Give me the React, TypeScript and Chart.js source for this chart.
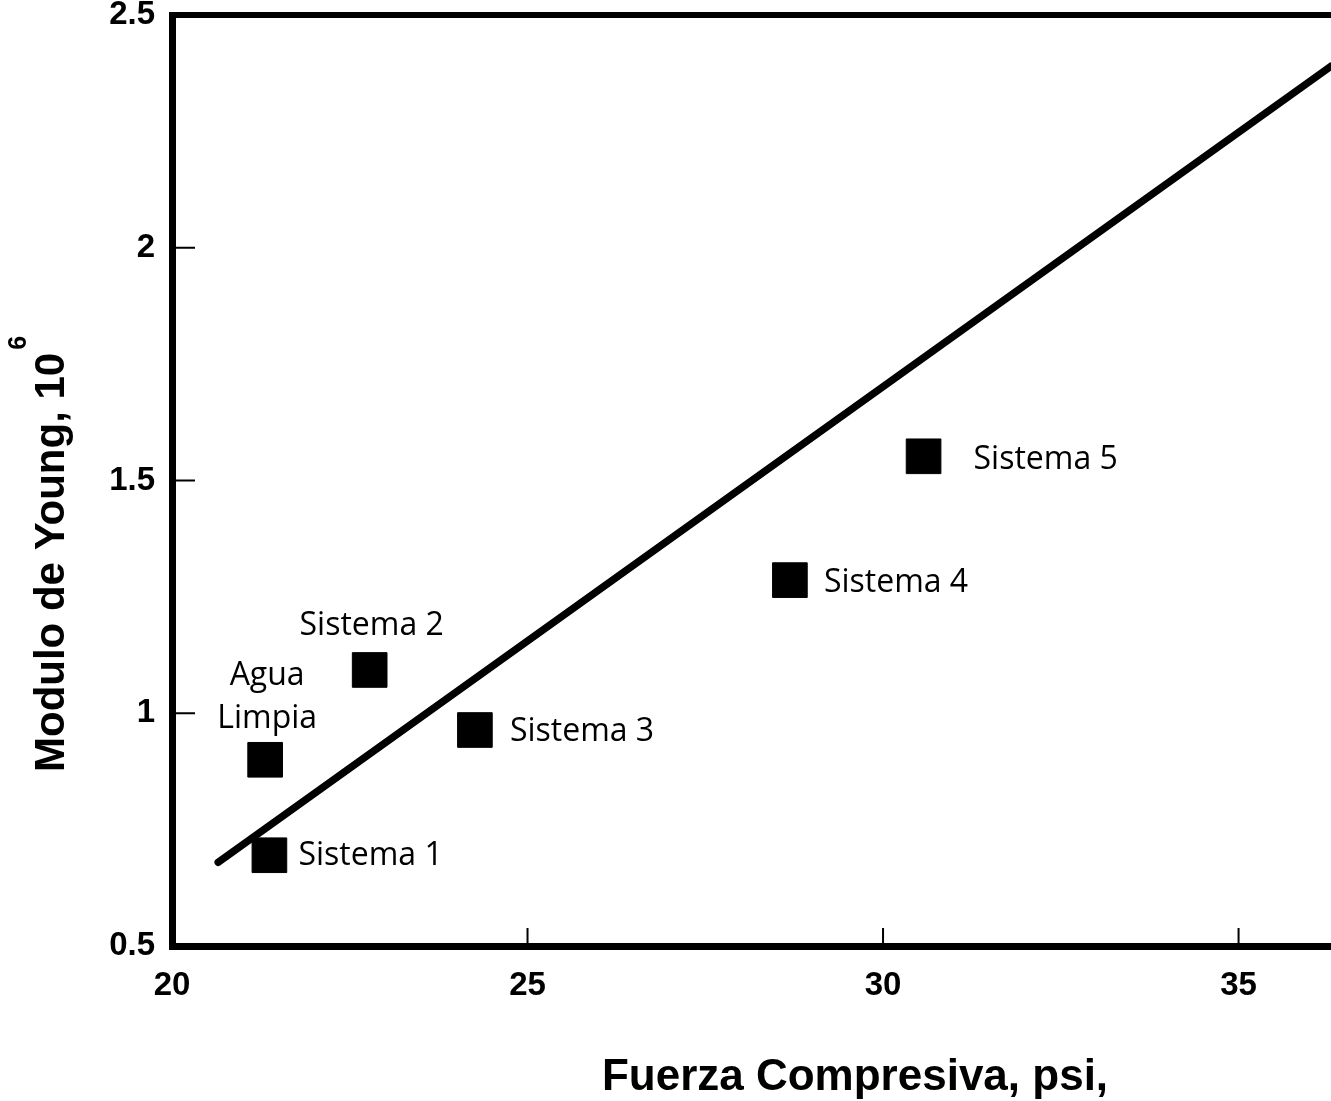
import React, { useEffect, useRef } from "react";
import { Chart, registerables } from "chart.js";

Chart.register(...registerables);

// ---- data ----
const X_TICKS = [20, 25, 30, 35];
const Y_TICKS = [0.5, 1, 1.5, 2, 2.5];
const X_MIN = 20;
const X_MAX = 36.3;
const Y_MIN = 0.5;
const Y_MAX = 2.5;

const POINT_NAMES = ["Agua Limpia", "Sistema 1", "Sistema 2", "Sistema 3", "Sistema 4", "Sistema 5"];
const POINT_X = [21.31, 21.37, 22.78, 24.26, 28.69, 30.57];
const POINT_Y = [0.9, 0.695, 1.093, 0.964, 1.286, 1.552];

const FIT_X = [20.65, 36.3];
const FIT_Y = [0.68, 2.39];

const X_TITLE = "Fuerza Compresiva, psi,";
const Y_TITLE = "Modulo de Young, 10";
const Y_TITLE_SUP = "6";

// label text lines for each point
const LABEL_LINES = [["Agua", "Limpia"], ["Sistema 1"], ["Sistema 2"], ["Sistema 3"], ["Sistema 4"], ["Sistema 5"]];

// ---- styling / placement (pixels, not data) ----
const LABEL_PLACE = [
  { dx: 2, dy: -75, align: "center", base: "alphabetic", lineGap: 43 },
  { dx: 29, dy: 1, align: "left", base: "middle", lineGap: 0 },
  { dx: 2, dy: -35, align: "center", base: "alphabetic", lineGap: 0 },
  { dx: 35, dy: 2, align: "left", base: "middle", lineGap: 0 },
  { dx: 34, dy: 3, align: "left", base: "middle", lineGap: 0 },
  { dx: 50, dy: 4, align: "left", base: "middle", lineGap: 0 },
];

const AXIS_FONT = '"Liberation Sans", Arial, Helvetica, sans-serif';
const LABEL_FONT = '"Open Sans", "Noto Sans", sans-serif';

const decorPlugin = {
  id: "decor",
  afterDatasetsDraw(chart: any) {
    const { ctx, scales } = chart;
    const xs = scales.x;
    const ys = scales.y;
    ctx.save();
    ctx.fillStyle = "#000";
    ctx.font = `32px ${LABEL_FONT}`;
    POINT_X.forEach((xv, i) => {
      const px = xs.getPixelForValue(xv);
      const py = ys.getPixelForValue(POINT_Y[i]);
      const p = LABEL_PLACE[i];
      ctx.textAlign = p.align;
      ctx.textBaseline = p.base;
      LABEL_LINES[i].forEach((t, j) => {
        ctx.fillText(t, px + p.dx, py + p.dy + j * p.lineGap);
      });
    });
    ctx.restore();
  },
  afterDraw(chart: any) {
    const { ctx, chartArea: a, scales } = chart;
    const xs = scales.x;
    const ys = scales.y;
    ctx.save();
    ctx.strokeStyle = "#000";
    // top border
    ctx.lineWidth = 6;
    ctx.beginPath();
    ctx.moveTo(a.left - 3, a.top);
    ctx.lineTo(a.right + 5, a.top);
    ctx.stroke();
    // inner ticks
    ctx.lineWidth = 2;
    ctx.beginPath();
    X_TICKS.forEach((v) => {
      const px = xs.getPixelForValue(v);
      if (px > a.left + 6) {
        ctx.moveTo(px, a.bottom);
        ctx.lineTo(px, a.bottom - 18);
      }
    });
    Y_TICKS.forEach((v) => {
      const py = ys.getPixelForValue(v);
      if (py > a.top + 6 && py < a.bottom - 6) {
        ctx.moveTo(a.left, py);
        ctx.lineTo(a.left + 23, py);
      }
    });
    ctx.stroke();

    // axis titles
    ctx.fillStyle = "#000";
    ctx.font = `bold 44px ${AXIS_FONT}`;
    ctx.textAlign = "center";
    ctx.textBaseline = "alphabetic";
    ctx.fillText(X_TITLE, 855, 1090);

    ctx.font = `bold 42px ${AXIS_FONT}`;
    ctx.translate(64, 772);
    ctx.rotate(-Math.PI / 2);
    ctx.textAlign = "left";
    ctx.fillText(Y_TITLE, 0, 0);
    const w = ctx.measureText(Y_TITLE).width;
    ctx.font = `bold 25px ${AXIS_FONT}`;
    ctx.fillText(Y_TITLE_SUP, w + 3, -38);
    ctx.restore();
  },
};

export default function App() {
  const ref = useRef<HTMLCanvasElement | null>(null);

  useEffect(() => {
    if (!ref.current) return;
    const tickFont = { family: AXIS_FONT, size: 33, weight: "bold" as const };
    const chart = new Chart(ref.current, {
      type: "scatter",
      data: {
        datasets: [
          {
            type: "line",
            label: "Ajuste",
            data: FIT_X.map((x, i) => ({ x, y: FIT_Y[i] })),
            borderColor: "#000",
            borderWidth: 7.5,
            borderCapStyle: "round",
            pointRadius: 0,
            fill: false,
            tension: 0,
            order: 2,
          },
          {
            type: "scatter",
            label: "Sistemas",
            data: POINT_X.map((x, i) => ({ x, y: POINT_Y[i], name: POINT_NAMES[i] })),
            pointStyle: "rect",
            pointRadius: 24.5,
            pointBackgroundColor: "#000",
            pointBorderColor: "#000",
            pointBorderWidth: 1,
            order: 1,
          },
        ] as any,
      },
      options: {
        animation: false,
        responsive: true,
        maintainAspectRatio: false,
        devicePixelRatio: 1,
        layout: { autoPadding: false, padding: { top: 15, right: 0, left: 0, bottom: 0 } },
        plugins: {
          legend: { display: false },
          tooltip: { enabled: false },
          title: { display: false },
        },
        scales: {
          x: {
            type: "linear",
            min: X_MIN,
            max: X_MAX,
            afterBuildTicks: (s: any) => {
              s.ticks = X_TICKS.map((v) => ({ value: v }));
            },
            afterFit: (s: any) => {
              s.height = 155;
              s.paddingLeft = 0;
              s.paddingRight = 0;
            },
            grid: { display: false, drawTicks: false },
            border: { display: true, color: "#000", width: 7 },
            ticks: {
              font: tickFont,
              color: "#000",
              padding: 20,
              autoSkip: false,
              maxRotation: 0,
              callback: (v: any) => String(v),
            },
          },
          y: {
            type: "linear",
            min: Y_MIN,
            max: Y_MAX,
            afterBuildTicks: (s: any) => {
              s.ticks = Y_TICKS.map((v) => ({ value: v }));
            },
            afterFit: (s: any) => {
              s.width = 172;
              s.paddingTop = 0;
              s.paddingBottom = 0;
            },
            grid: { display: false, drawTicks: false },
            border: { display: true, color: "#000", width: 7 },
            ticks: {
              font: tickFont,
              color: "#000",
              padding: 17,
              autoSkip: false,
              callback: (v: any) => String(v),
            },
          },
        },
      } as any,
      plugins: [decorPlugin],
    });
    return () => chart.destroy();
  }, []);

  return (
    <div style={{ position: "fixed", left: 0, top: 0, width: 1331, height: 1101, background: "#fff" }}>
      <canvas ref={ref} />
    </div>
  );
}
